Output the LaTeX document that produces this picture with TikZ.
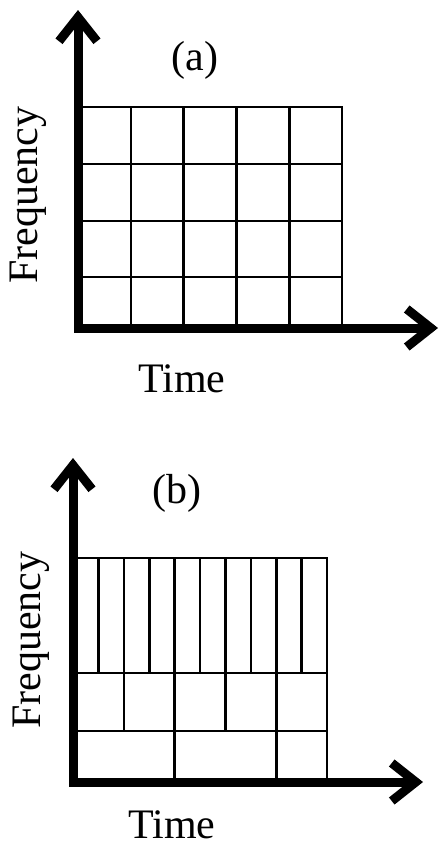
\documentclass[tikz,border=0pt]{standalone}
\usepackage{fontspec}
\setmainfont{Liberation Serif}
\usetikzlibrary{arrows.meta}
\begin{document}
\begin{tikzpicture}[x=1pt,y=-1pt,
  axis/.style={line width=9pt,line join=miter,{Straight Barb[length=24pt,width=38pt]}-{Straight Barb[length=24pt,width=38pt]}},
  cell/.style={line width=2.6pt},
  lbl/.style={font=\fontsize{42}{42}\selectfont,inner sep=0pt}]
  \useasboundingbox (0,0) rectangle (440,847);
  % (a) regular grid
  \coordinate (Ta) at (78,10); \coordinate (Oa) at (78,328); \coordinate (Ra) at (438,328);
  \draw[cell] (78,107) -- (342,107) -- (342,328);
  \foreach \y in {164,221,277} \draw[cell] (78,\y) -- (342,\y);
  \foreach \i in {1,...,4} \draw[cell] ({78+52.8*\i},107) -- ({78+52.8*\i},328);
  \draw[axis] (Ta) -- (Oa) -- (Ra);
  \node[lbl,anchor=base] (capa) at (195,70) {(a)};
  \node[lbl,anchor=base west,rotate=90] (freqa) at (37,284) {Frequency};
  \node[lbl,anchor=base] (timea) at (182,392) {Time};
  % (b) tiling that changes with frequency
  \coordinate (Tb) at (73,458); \coordinate (Ob) at (73,782); \coordinate (Rb) at (423,782);
  \draw[cell] (73,558) -- (327,558) -- (327,782);
  \draw[cell] (73,673) -- (327,673); \draw[cell] (73,731) -- (327,731);
  \foreach \i in {1,...,9} \draw[cell] ({73+25.4*\i},558) -- ({73+25.4*\i},673);
  \foreach \i in {1,...,4} \draw[cell] ({73+50.8*\i},673) -- ({73+50.8*\i},731);
  \foreach \i in {1,2} \draw[cell] ({73+101.6*\i},731) -- ({73+101.6*\i},782);
  \draw[axis] (Tb) -- (Ob) -- (Rb);
  \node[lbl,anchor=base] (capb) at (177,503) {(b)};
  \node[lbl,anchor=base west,rotate=90] (freqb) at (40,729) {Frequency};
  \node[lbl,anchor=base] (timeb) at (172,838) {Time};
\end{tikzpicture}
\end{document}
